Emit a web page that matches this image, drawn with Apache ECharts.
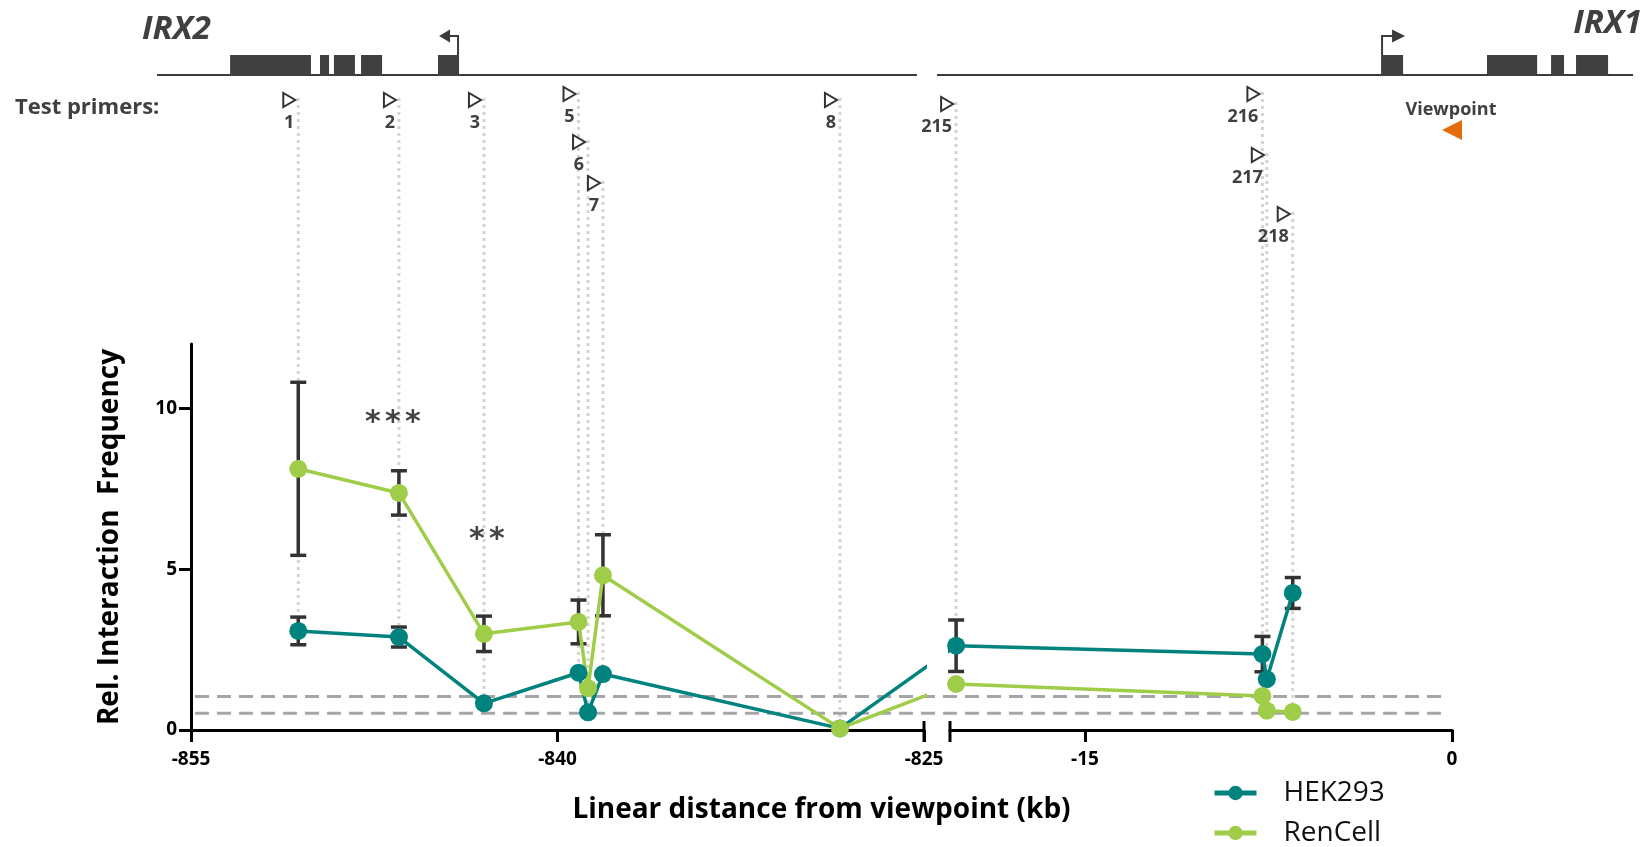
<!DOCTYPE html>
<html>
<head>
<meta charset="utf-8">
<script src="https://cdn.jsdelivr.net/npm/echarts@6/dist/echarts.min.js"></script>
<style>
html,body{margin:0;padding:0;background:#fff;}
#c{width:1644px;height:847px;}
</style>
</head>
<body>
<div id="c"></div>
<script>
// ---------------- DATA ----------------
const primerNames   = ['1','2','3','5','6','7','8','215','216','217','218'];
const primerSegment = ['L','L','L','L','L','L','L','R','R','R','R'];   // which side of the axis break
const primerKb      = [-850.61,-846.49,-843.01,-839.14,-838.75,-838.14,-828.44,-20.27,-7.75,-7.57,-6.51];
const hek293        = [3.08,2.89,0.83,1.78,0.55,1.74,0.05,2.62,2.36,1.58,4.26];
const hek293Err     = [0.43,0.31,null,null,null,null,null,0.80,0.55,null,0.48];
const rencell       = [8.12,7.37,2.99,3.36,1.30,4.81,0.05,1.43,1.06,0.60,0.56];
const rencellErr    = [2.69,0.69,0.55,0.68,null,1.26,null,null,null,null,null];
const significance  = ['','***','**','','','','','','','',''];
const backgroundLevels = [1.04, 0.52];
const leftTickValues  = [-855,-840,-825];
const rightTickValues = [-15,0];
const yTickValues     = [0,5,10];
const seriesNames     = ['HEK293','RenCell'];
// gene schematic (kb)
const irx2Track = [-856.39,-825.29];
const irx2Exons = [[-853.40,-850.09],[-849.72,-849.35],[-849.15,-848.29],[-848.04,-847.18],[-844.89,-844.03]];
const irx2Tss   = -844.03;
const irx1Track = [-21.05,7.40];
const irx1Exons = [[-2.90,-2.00],[1.43,3.48],[4.05,4.58],[5.07,6.38]];
const irx1Tss   = -2.90;
const viewpointKb = 0;

// ---------------- LAYOUT ----------------
const FONT = '"Open Sans","Noto Sans",sans-serif';
const LAY = {
  gridTop:344, gridHeight:386,
  left:{x0:191, x1:924, min:-855, max:-825},
  right:{x0:950, x1:1452, min:-20.52, max:0},
  trackY:75, exonH:20, arrowY:36,
  tagTop:[93,93,93,87,135,176,93,97,87,148,207],
  sigY:[null,423,540,null,null,null,null,null,null,null,null],
  sigDx:[0,-6,3,0,0,0,0,0,0,0,0],
  sigStep:20
};
const pxL = (LAY.left.x1-LAY.left.x0)/(LAY.left.max-LAY.left.min);
const pxR = (LAY.right.x1-LAY.right.x0)/(LAY.right.max-LAY.right.min);
function toLeftDomain(v, seg){
  if (seg==='L') return v;
  const px = LAY.right.x0 + (v-LAY.right.min)*pxR;
  return LAY.left.min + (px-LAY.left.x0)/pxL;
}
function toRightDomain(v, seg){
  if (seg==='R') return v;
  const px = LAY.left.x0 + (v-LAY.left.min)*pxL;
  return LAY.right.min + (px-LAY.right.x0)/pxR;
}

const TEAL = '#00827f', GREEN = '#9fcd4a', INK = '#3b3b3b';

function lineData(vals, conv){ return primerKb.map((x,i)=>[conv(x,primerSegment[i]), vals[i]]); }
function errData(vals, errs, seg){
  const out=[];
  primerKb.forEach((x,i)=>{ if(primerSegment[i]===seg && errs[i]!=null) out.push([x, vals[i], errs[i]]); });
  return out;
}
function errRender(params, api){
  const x=api.value(0), y=api.value(1), e=api.value(2);
  const t=api.coord([x,y+e]), b=api.coord([x,y-e]), hw=8;
  const st={stroke:'#333', lineWidth:3.5};
  return {type:'group', children:[
    {type:'line', shape:{x1:t[0],y1:t[1],x2:b[0],y2:b[1]}, style:st},
    {type:'line', shape:{x1:t[0]-hw,y1:t[1],x2:t[0]+hw,y2:t[1]}, style:st},
    {type:'line', shape:{x1:b[0]-hw,y1:b[1],x2:b[0]+hw,y2:b[1]}, style:st}
  ]};
}
function lineSeries(name, vals, color, gi, conv){
  return {name, type:'line', xAxisIndex:gi, yAxisIndex:gi, data:lineData(vals, conv),
    symbol:'circle', symbolSize:18, clip:true,
    lineStyle:{color, width:3.5}, itemStyle:{color}, emphasis:{disabled:true}, z:3};
}
function errSeries(vals, errs, gi, seg){
  return {type:'custom', xAxisIndex:gi, yAxisIndex:gi, data:errData(vals, errs, seg), renderItem:errRender, z:2, silent:true};
}
function legendFor(name, top){
  return {data:[name], orient:'vertical', left:1212, top, padding:0,
    itemWidth:42, itemHeight:18, selectedMode:false,
    lineStyle:{width:5},
    textStyle:{fontFamily:FONT, fontSize:28, color:'#111', padding:[0,0,0,22]}};
}

const axisLabelStyle = {color:'#000', fontWeight:'bold', fontSize:19, fontFamily:FONT};
const chart = echarts.init(document.getElementById('c'), null, {renderer:'canvas', width:1644, height:847});

chart.setOption({
  animation:false,
  backgroundColor:'#fff',
  grid:[
    {left:LAY.left.x0, top:LAY.gridTop, width:LAY.left.x1-LAY.left.x0, height:LAY.gridHeight, outerBoundsMode:'none', containLabel:false},
    {left:LAY.right.x0, top:LAY.gridTop, width:LAY.right.x1-LAY.right.x0, height:LAY.gridHeight, outerBoundsMode:'none', containLabel:false}
  ],
  xAxis:[
    {gridIndex:0, type:'value', min:LAY.left.min, max:LAY.left.max,
      axisLine:{onZero:false, lineStyle:{color:'#000', width:3}},
      axisTick:{customValues:leftTickValues, length:12, lineStyle:{color:'#000', width:3}},
      axisLabel:Object.assign({customValues:leftTickValues, margin:20}, axisLabelStyle),
      splitLine:{show:false}},
    {gridIndex:1, type:'value', min:LAY.right.min, max:LAY.right.max,
      axisLine:{onZero:false, lineStyle:{color:'#000', width:3}},
      axisTick:{customValues:rightTickValues, length:12, lineStyle:{color:'#000', width:3}},
      axisLabel:Object.assign({customValues:rightTickValues, margin:20}, axisLabelStyle),
      splitLine:{show:false}}
  ],
  yAxis:[
    {gridIndex:0, type:'value', min:0, max:12,
      axisLine:{show:true, lineStyle:{color:'#000', width:3}},
      axisTick:{show:true, customValues:yTickValues, length:12, lineStyle:{color:'#000', width:3}},
      axisLabel:Object.assign({customValues:yTickValues, margin:14}, axisLabelStyle),
      splitLine:{show:false}},
    {gridIndex:1, type:'value', min:0, max:12, show:false, splitLine:{show:false}}
  ],
  legend:[legendFor(seriesNames[0], 779), legendFor(seriesNames[1], 819)],
  series:[
    errSeries(hek293, hek293Err, 0, 'L'),
    errSeries(rencell, rencellErr, 0, 'L'),
    errSeries(hek293, hek293Err, 1, 'R'),
    errSeries(rencell, rencellErr, 1, 'R'),
    lineSeries(seriesNames[0], hek293, TEAL, 0, toLeftDomain),
    lineSeries(seriesNames[0], hek293, TEAL, 1, toRightDomain),
    lineSeries(seriesNames[1], rencell, GREEN, 0, toLeftDomain),
    lineSeries(seriesNames[1], rencell, GREEN, 1, toRightDomain)
  ]
});

// ------------- annotations positioned through the chart's scales -------------
function xPix(v, seg){
  const ai = seg==='L'?0:1, r = seg==='L'?LAY.left:LAY.right;
  const a = chart.convertToPixel({xAxisIndex:ai}, r.min), b = chart.convertToPixel({xAxisIndex:ai}, r.max);
  return a + (v-r.min)*(b-a)/(r.max-r.min);
}
const yPix = v => chart.convertToPixel({yAxisIndex:0}, v);

const G = [];
function txt(x,y,text,opt){
  G.push({type:'text', x, y, z:10, style:Object.assign({text, fill:'#404040', fontFamily:FONT, fontWeight:'bold', fontSize:17, align:'center', verticalAlign:'middle'}, opt||{})});
}
// gene tracks
[[irx2Track,'L'],[irx1Track,'R']].forEach(([tr,seg])=>{
  G.push({type:'line', z:10, shape:{x1:xPix(tr[0],seg), y1:LAY.trackY, x2:xPix(tr[1],seg), y2:LAY.trackY}, style:{stroke:INK, lineWidth:2}});
});
[[irx2Exons,'L'],[irx1Exons,'R']].forEach(([ex,seg])=>{
  ex.forEach(([a,b])=>{
    const xa=xPix(a,seg), xb=xPix(b,seg);
    G.push({type:'rect', z:10, shape:{x:xa, y:LAY.trackY-LAY.exonH, width:xb-xa, height:LAY.exonH+1}, style:{fill:'#404040'}});
  });
});
// TSS arrows
(function(){
  const x = xPix(irx2Tss,'L'), ay=LAY.arrowY, ty=LAY.trackY-LAY.exonH;
  G.push({type:'polyline', z:10, shape:{points:[[x-1,ty],[x-1,ay],[x-11,ay]]}, style:{stroke:INK, lineWidth:2, fill:null}});
  G.push({type:'polygon', z:10, shape:{points:[[x-9,ay-6.5],[x-9,ay+6.5],[x-20,ay]]}, style:{fill:INK}});
  const x2 = xPix(irx1Tss,'R');
  G.push({type:'polyline', z:10, shape:{points:[[x2+1,ty],[x2+1,ay],[x2+13,ay]]}, style:{stroke:INK, lineWidth:2, fill:null}});
  G.push({type:'polygon', z:10, shape:{points:[[x2+11,ay-6.5],[x2+11,ay+6.5],[x2+24,ay]]}, style:{fill:INK}});
})();
txt(142, 30, 'IRX2', {align:'left', fontStyle:'italic', fontSize:33});
txt(1642, 24, 'IRX1', {align:'right', fontStyle:'italic', fontSize:33});
txt(15, 108, 'Test primers:', {align:'left', fontSize:22});
// viewpoint
(function(){
  const vx = xPix(viewpointKb,'R');
  txt(vx-1, 110, 'Viewpoint', {fontSize:18});
  G.push({type:'polygon', z:10, shape:{points:[[vx+10,120],[vx+10,140],[vx-10,130]]}, style:{fill:'#e46c0a'}});
})();
// primer tags + dotted guides
primerNames.forEach((nm,i)=>{
  const seg=primerSegment[i], x=xPix(primerKb[i],seg), top=LAY.tagTop[i];
  const yLow = yPix(Math.min(hek293[i], rencell[i]));
  G.push({type:'line', z:1, shape:{x1:x, y1:top+5, x2:x, y2:yLow}, style:{stroke:'#d4d4d4', lineWidth:3, lineDash:[3,4]}});
  G.push({type:'polygon', z:10, shape:{points:[[x-15,top],[x-15,top+14],[x-3,top+7]]}, style:{stroke:'#333', lineWidth:2, fill:'#fff'}});
  txt(x-4, top+30, nm, {align:'right', fontSize:18});
  const s = significance[i];
  if (s) {
    const n = s.length, cx = x + LAY.sigDx[i];
    s.split('').forEach((ch,k)=>{
      G.push({type:'text', z:10, x:cx + (k-(n-1)/2)*LAY.sigStep, y:LAY.sigY[i], style:{text:ch, fill:'#444', fontFamily:'"DejaVu Sans",sans-serif', fontWeight:'bold', fontSize:30, align:'center', verticalAlign:'middle'}});
    });
  }
});
// background levels (dashed)
backgroundLevels.forEach(v=>{
  const y=yPix(v);
  G.push({type:'line', z:1, shape:{x1:LAY.left.x0+4, y1:y, x2:xPix(LAY.right.max,'R')-4, y2:y}, style:{stroke:'#a6a6a9', lineWidth:3, lineDash:[14,8]}});
});
// axis break caps
(function(){
  const yb = yPix(0);
  [xPix(LAY.left.max,'L'), xPix(LAY.right.min,'R')].forEach(x=>{
    G.push({type:'line', z:10, shape:{x1:x, y1:yb-9, x2:x, y2:yb+12}, style:{stroke:'#000', lineWidth:3}});
  });
})();
// axis titles
G.push({type:'text', z:10, x:(LAY.left.x0+LAY.right.x1)/2, y:810, style:{text:'Linear distance from viewpoint (kb)', fill:'#000', fontFamily:FONT, fontWeight:'bold', fontSize:28, align:'center', verticalAlign:'middle'}});
G.push({type:'text', z:10, x:110, y:(yPix(0)+yPix(12))/2, rotation:Math.PI/2, style:{text:'Rel. Interaction  Frequency', fill:'#000', fontFamily:FONT, fontWeight:'bold', fontSize:28, align:'center', verticalAlign:'middle'}});

chart.setOption({graphic:{elements:G}});
</script>
</body>
</html>
